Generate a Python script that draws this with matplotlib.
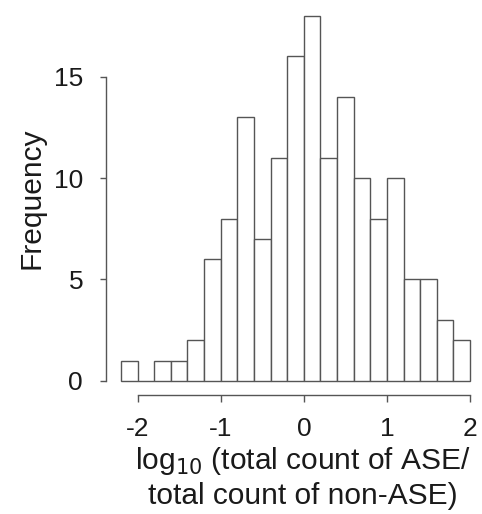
import matplotlib
matplotlib.use('Agg')
import matplotlib.pyplot as plt

plt.rcParams['font.family'] = ['Liberation Sans', 'DejaVu Sans']
plt.rcParams['axes.unicode_minus'] = False

# histogram of log10(ASE / non-ASE) counts
bin_edges = [-2.2, -2.0, -1.8, -1.6, -1.4, -1.2, -1.0, -0.8, -0.6, -0.4, -0.2,
             0.0, 0.2, 0.4, 0.6, 0.8, 1.0, 1.2, 1.4, 1.6, 1.8, 2.0]
counts = [1, 0, 1, 1, 2, 6, 8, 13, 7, 11, 16, 18, 11, 14, 10, 8, 10, 5, 5, 3, 2]
x_ticks = [-2, -1, 0, 1, 2]
y_ticks = [0, 5, 10, 15]

line_col = '#555555'
text_col = '#1a1a1a'

fig = plt.figure(figsize=(4.82, 5.14), dpi=100)
ax = fig.add_axes([106 / 482, 119 / 514, 376 / 482, 394 / 514])

lefts = bin_edges[:-1]
widths = [b - a for a, b in zip(bin_edges[:-1], bin_edges[1:])]
ax.bar(lefts, counts, width=widths, align='edge', facecolor='white',
       edgecolor=line_col, linewidth=1.0)

ax.set_xlim(-2.38, 2.143)
ax.set_ylim(-0.69, 18.72)

for s in ['top', 'right']:
    ax.spines[s].set_visible(False)
ax.spines['bottom'].set_bounds(x_ticks[0], x_ticks[-1])
ax.spines['left'].set_bounds(y_ticks[0], y_ticks[-1])
for s in ['bottom', 'left']:
    ax.spines[s].set_color(line_col)
    ax.spines[s].set_linewidth(1.0)

ax.set_xticks(x_ticks)
ax.set_yticks(y_ticks)
ax.tick_params(axis='x', length=5, width=1, color=line_col, pad=11,
               labelsize=19, labelcolor=text_col)
ax.tick_params(axis='y', length=4.5, width=1, color=line_col, pad=12,
               labelsize=19, labelcolor=text_col)

ax.set_ylabel('Frequency', fontsize=21.5, color=text_col)
ax.yaxis.set_label_coords(-0.197, 0.5, transform=ax.transAxes)
ax.yaxis.label.set_va('center')

ax.set_xlabel('log$_{10}$ (total count of ASE/\ntotal count of non-ASE)',
              fontsize=21.5, color=text_col, linespacing=1.2)
ax.xaxis.set_label_coords(0.524, -0.128, transform=ax.transAxes)
ax.xaxis.label.set_va('top')

fig.savefig('out.png', dpi=100)
